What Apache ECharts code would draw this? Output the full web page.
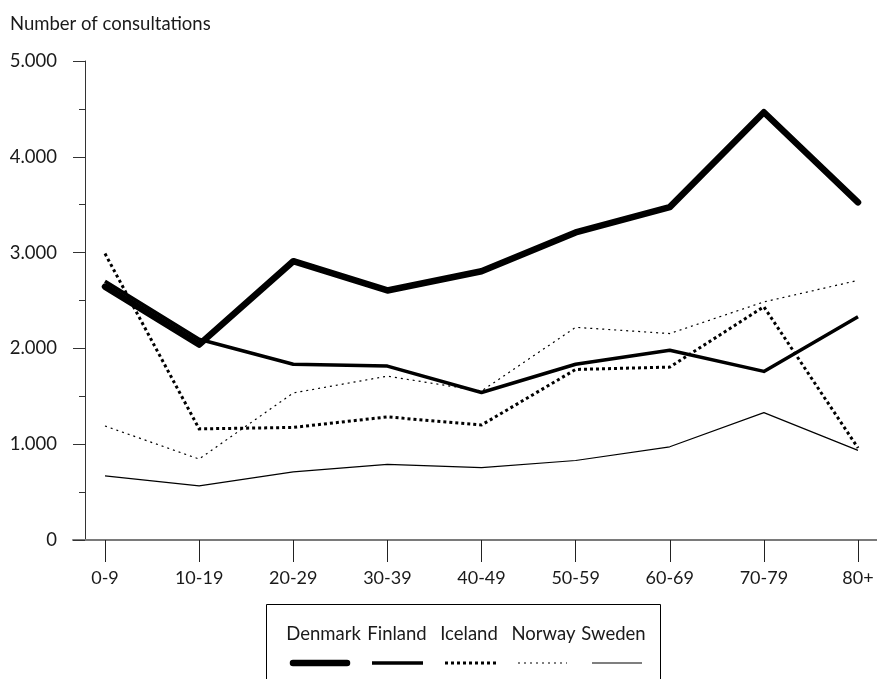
<!DOCTYPE html>
<html>
<head>
<meta charset="utf-8">
<style>
  html, body { margin: 0; padding: 0; background: #ffffff; }
  #chart { width: 877px; height: 679px; }
</style>
<script src="https://cdn.jsdelivr.net/npm/echarts@6/dist/echarts.min.js"></script>
</head>
<body>
<div id="chart"></div>
<script>
// ---- Data ----
var categories = ['0-9', '10-19', '20-29', '30-39', '40-49', '50-59', '60-69', '70-79', '80+'];
var seriesNames = ['Denmark', 'Finland', 'Iceland', 'Norway', 'Sweden'];
var denmark = [2645, 2040, 2910, 2605, 2805, 3210, 3475, 4465, 3525];
var finland = [2700, 2095, 1835, 1815, 1540, 1835, 1980, 1760, 2330];
var iceland = [2990, 1160, 1175, 1285, 1200, 1780, 1805, 2435, 960];
var norway  = [1190, 845, 1535, 1710, 1555, 2220, 2155, 2485, 2710];
var sweden  = [670, 565, 712, 790, 755, 830, 973, 1330, 935];
var yTitle = 'Number of consultations';
var yMin = 0, yMax = 5000, yInterval = 1000;

var seriesValues = [denmark, finland, iceland, norway, sweden];

// ---- Styles ----
var FONT = 'Lato, "Open Sans", sans-serif';
var lineStyles = [
  { width: 6.5, type: 'solid', cap: 'round', join: 'round' },
  { width: 3.5, type: 'solid', cap: 'butt', join: 'round' },
  { width: 3, type: [3, 3], cap: 'butt', join: 'miter' },
  { width: 1.2, type: [2, 4], cap: 'butt', join: 'miter' },
  { width: 1.2, type: 'solid', cap: 'butt', join: 'round' }
];

var chart = echarts.init(document.getElementById('chart'), null, { renderer: 'canvas' });

function fmt(v) {
  var s = String(Math.round(v));
  return s.replace(/\B(?=(\d{3})+(?!\d))/g, '.');
}

var series = seriesNames.map(function (name, i) {
  var ls = lineStyles[i];
  return {
    name: name,
    type: 'line',
    xAxisIndex: 0,
    yAxisIndex: 0,
    data: seriesValues[i],
    symbol: 'none',
    silent: true,
    z: 10 - i,
    lineStyle: { color: '#000', width: ls.width, type: ls.type, cap: ls.cap, join: ls.join }
  };
});

// Legend drawn as graphic (text above line sample)
var legendTextX = [323.5, 397, 469, 543.5, 613.5];
var legendLineX = [[293, 347], [372, 423], [445, 496], [518, 567], [592, 642]];
var graphics = [{
  type: 'rect',
  shape: { x: 266.5, y: 604.5, width: 394, height: 120 },
  style: { fill: 'none', stroke: '#000', lineWidth: 1 },
  silent: true
}];
seriesNames.forEach(function (name, i) {
  var ls = lineStyles[i];
  graphics.push({
    type: 'text',
    style: {
      text: name, x: legendTextX[i], y: 634,
      textAlign: 'center', textVerticalAlign: 'middle',
      font: '18.5px ' + FONT, fill: '#1a1a1a'
    },
    silent: true
  });
  graphics.push({
    type: 'line',
    shape: { x1: legendLineX[i][0], y1: 663, x2: legendLineX[i][1], y2: 663 },
    style: {
      stroke: '#000', lineWidth: ls.width,
      lineDash: Array.isArray(ls.type) ? ls.type : null,
      lineCap: ls.cap
    },
    silent: true
  });
});

var option = {
  animation: false,
  backgroundColor: '#ffffff',
  title: {
    text: yTitle,
    left: 10, top: 15, padding: 0,
    textStyle: { fontFamily: FONT, fontSize: 18.5, fontWeight: 'normal', color: '#1a1a1a' }
  },
  grid: [
    { left: 105, right: 19, top: 61, bottom: 139 },
    { left: 73, right: 0, top: 61, bottom: 139 }
  ],
  xAxis: [
    {
      type: 'category', gridIndex: 0, data: categories, boundaryGap: false,
      axisLine: { show: false },
      axisTick: { show: true, interval: 0, length: 22, lineStyle: { color: '#222', width: 1 } },
      axisLabel: { interval: 0, margin: 29, fontFamily: FONT, fontSize: 18, color: '#1a1a1a' },
      splitLine: { show: false }
    },
    {
      type: 'value', gridIndex: 1, min: 0, max: 1,
      axisLine: { show: true, onZero: false, lineStyle: { color: '#7a7a7a', width: 2 } },
      axisTick: { show: false }, axisLabel: { show: false }, splitLine: { show: false }
    }
  ],
  yAxis: [
    { type: 'value', gridIndex: 0, min: yMin, max: yMax, show: false },
    {
      type: 'value', gridIndex: 1, min: yMin, max: yMax, interval: yInterval,
      offset: -12,
      axisLine: { show: true, lineStyle: { color: '#333', width: 1 } },
      axisTick: { show: true, inside: false, length: 12, lineStyle: { color: '#333', width: 1 } },
      minorTick: { show: true, splitNumber: 2, length: 6, lineStyle: { color: '#333', width: 1 } },
      axisLabel: {
        margin: 28, fontFamily: FONT, fontSize: 18.5, color: '#1a1a1a',
        formatter: function (v) { return fmt(v); }
      },
      splitLine: { show: false }
    }
  ],
  series: series,
  graphic: graphics
};

chart.setOption(option);
</script>
</body>
</html>
